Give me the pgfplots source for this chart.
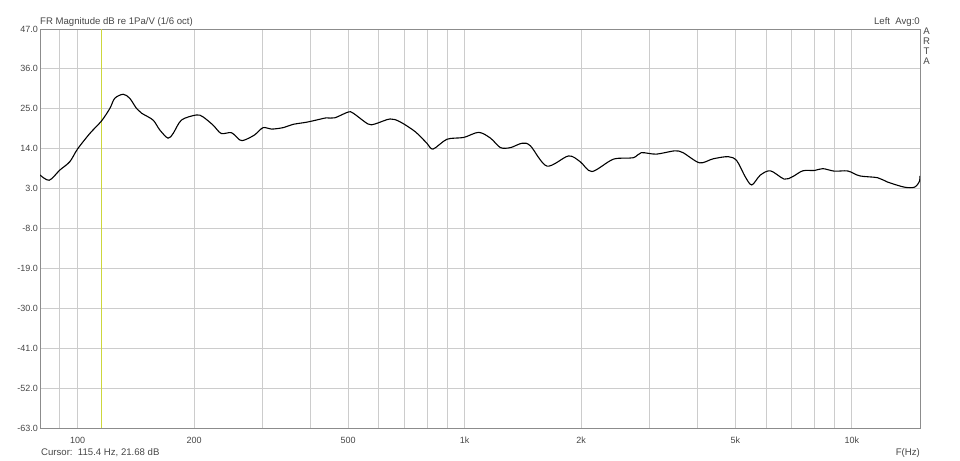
\documentclass[border=0pt]{standalone}
\usepackage{pgfplots}
\pgfplotsset{compat=1.18}
\usepackage{fontspec}
\setmainfont{Liberation Sans}
\definecolor{cursorcol}{RGB}{205,215,60}
\definecolor{txt}{RGB}{70,70,70}
\begin{document}
\begin{tikzpicture}[x=1bp,y=1bp,font=\fontsize{9.6bp}{10bp}\selectfont]
\useasboundingbox (0,0) rectangle (960,461);
\begin{axis}[
  at={(40bp,33bp)}, anchor=south west,
  width=880bp, height=399bp, scale only axis,
  xmode=log, xmin=80, xmax=15000, ymin=-63, ymax=47,
  xtick={100,200,500,1000,2000,5000,10000},
  xticklabels={100,200,500,1k,2k,5k,10k},
  minor xtick={80,90,300,400,600,700,800,900,3000,4000,6000,7000,8000,9000},
  ytick={-63,-52,-41,-30,-19,-8,3,14,25,36,47},
  yticklabels={-63.0,-52.0,-41.0,-30.0,-19.0,-8.0,3.0,14.0,25.0,36.0,47.0},
  grid=both,
  major grid style={draw=black!20, line width=0.8bp},
  minor grid style={draw=black!20, line width=0.8bp},
  major tick length=0pt, minor tick length=0pt,
  axis line style={draw=black!45, line width=0.8bp},
  tick label style={text=txt, font=\fontsize{9bp}{10bp}\selectfont},
  xticklabel style={inner sep=0pt, anchor=center, yshift=-12bp},
  yticklabel style={inner sep=0pt, anchor=east, xshift=-2bp},
  clip=true,
]
\addplot[cursorcol, line width=1bp] coordinates {(115.4,-63) (115.4,47)};
\addplot[black, line width=1.1bp, smooth, tension=0.5] coordinates {
(80,6.75) (84.5,5.3) (90,8.1) (95.5,10.4) (100,13.9) (107.6,18.2)
(115.4,21.68) (121.2,25.1) (124.8,27.9) (131.2,29.0) (136.4,27.9)
(142,25.1) (146.3,23.8) (156.7,21.9) (163,19.2) (171.3,16.9)
(176.6,18.2) (185.6,21.9) (202.8,23.3) (210.7,22.8) (223.9,20.5)
(235,18.2) (249.8,18.4) (262.5,16.4) (270.2,16.4) (286.7,17.8)
(301.5,19.8) (316.9,19.4) (339.5,19.8) (360,20.7) (390.6,21.3)
(422,22.1) (439,22.5) (461.6,22.5) (500,24.1) (515,23.8) (563,20.8)
(586,20.8) (641.6,22.2) (681,21.4) (745,18.7) (799,15.5) (828.6,13.9)
(900,16.6) (994,17.1) (1087,18.5) (1166,16.9) (1237,14.3) (1313,14.3)
(1407,15.5) (1478,14.8) (1631,9.2) (1854,12.0) (1988,10.4) (2132,7.7)
(2421,11.1) (2724,11.5) (2858,12.9) (3121,12.5) (3487,13.4) (3664,12.9)
(4042,10.1) (4379,11.2) (4794,11.8) (5042,10.7) (5302,6.3) (5515,4.0)
(5800,6.7) (6164,7.9) (6690,5.6) (7035,6.3) (7469,7.9) (8008,8.0)
(8418,8.5) (9018,7.8) (9765,7.85) (10477,6.5) (11650,6.0) (12367,4.8)
(13660,3.4) (14520,3.4) (14950,5.0) (15000,6.5)
};
\end{axis}
\node[anchor=base west, inner sep=0pt, text=txt] at (40,436) {FR Magnitude dB re 1Pa/V (1/6 oct)};
\node[anchor=base east, inner sep=0pt, text=txt] at (920,436) {Left\ \ Avg:0};
\node[anchor=north, inner sep=0pt, text=txt, align=center, font=\fontsize{9.6bp}{10bp}\selectfont] at (926.5,433) {A\\R\\T\\A};
\node[anchor=base west, inner sep=0pt, text=txt] at (41,5) {Cursor:\ \ 115.4 Hz, 21.68 dB};
\node[anchor=base east, inner sep=0pt, text=txt] at (920,5) {F(Hz)};
\end{tikzpicture}
\end{document}
